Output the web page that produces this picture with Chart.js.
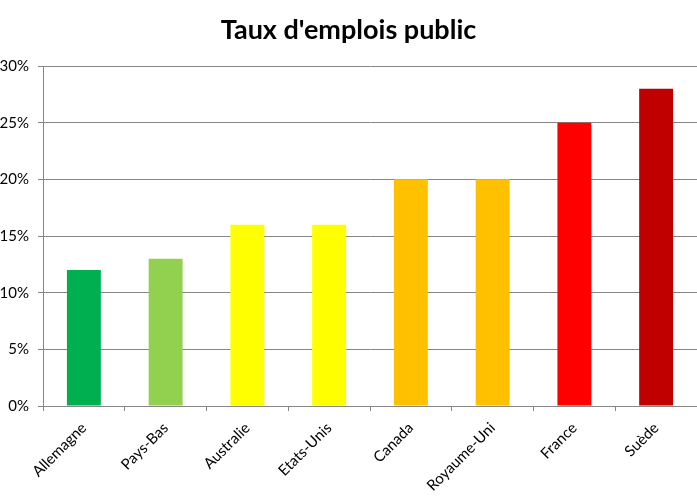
<!DOCTYPE html>
<html lang="fr">
<head>
  <meta charset="UTF-8" />
  <title>Taux d'emplois public</title>
  <style>
    body {
      margin: 0;
      background: #ffffff;
    }
  </style>
</head>
<body>
  <canvas id="myChart" width="697" height="503"></canvas>
  <script src="https://cdn.jsdelivr.net/npm/chart.js@4/dist/chart.umd.min.js"></script>
  <script>
    // données
    const pays = ["Allemagne", "Pays-Bas", "Australie", "Etats-Unis", "Canada", "Royaume-Uni", "France", "Suède"];
    const taux = [12, 13, 16, 16, 20, 20, 25, 28];
    const couleurs = ["#00B050", "#92D050", "#FFFF00", "#FFFF00", "#FFC000", "#FFC000", "#FF0000", "#C00000"];

    const grisAxe = "#868686";
    const police = "Lato, 'Open Sans', sans-serif";

    const ctx = document.getElementById("myChart").getContext("2d");
    const myChart = new Chart(ctx, {
      type: "bar",
      data: {
        labels: pays,
        datasets: [
          {
            label: "Taux",
            data: taux,
            backgroundColor: couleurs,
            borderWidth: 0,
            categoryPercentage: 1,
            barPercentage: 0.415
          }
        ]
      },
      options: {
        responsive: false,
        animation: false,
        layout: { padding: 0 },
        plugins: {
          legend: { display: false },
          tooltip: { enabled: false },
          title: {
            display: true,
            text: "Taux d'emplois public",
            color: "#000000",
            font: { family: police, size: 27, weight: "bold" },
            padding: { top: 14, bottom: 19.6 }
          }
        },
        scales: {
          x: {
            grid: {
              drawOnChartArea: false,
              drawTicks: true,
              tickLength: 5,
              color: grisAxe
            },
            border: { color: grisAxe },
            ticks: {
              color: "#000000",
              font: { family: police, size: 15 },
              minRotation: 45,
              maxRotation: 45,
              autoSkip: false,
              padding: 8
            },
            afterFit: (scale) => { scale.height = 97; }
          },
          y: {
            min: 0,
            max: 30,
            grid: {
              color: grisAxe,
              tickLength: 5
            },
            border: { color: grisAxe },
            ticks: {
              stepSize: 5,
              color: "#000000",
              font: { family: police, size: 15 },
              padding: 9,
              callback: (v) => v + "%"
            },
            afterFit: (scale) => { scale.width = 43; }
          }
        }
      }
    });
  </script>
</body>
</html>
